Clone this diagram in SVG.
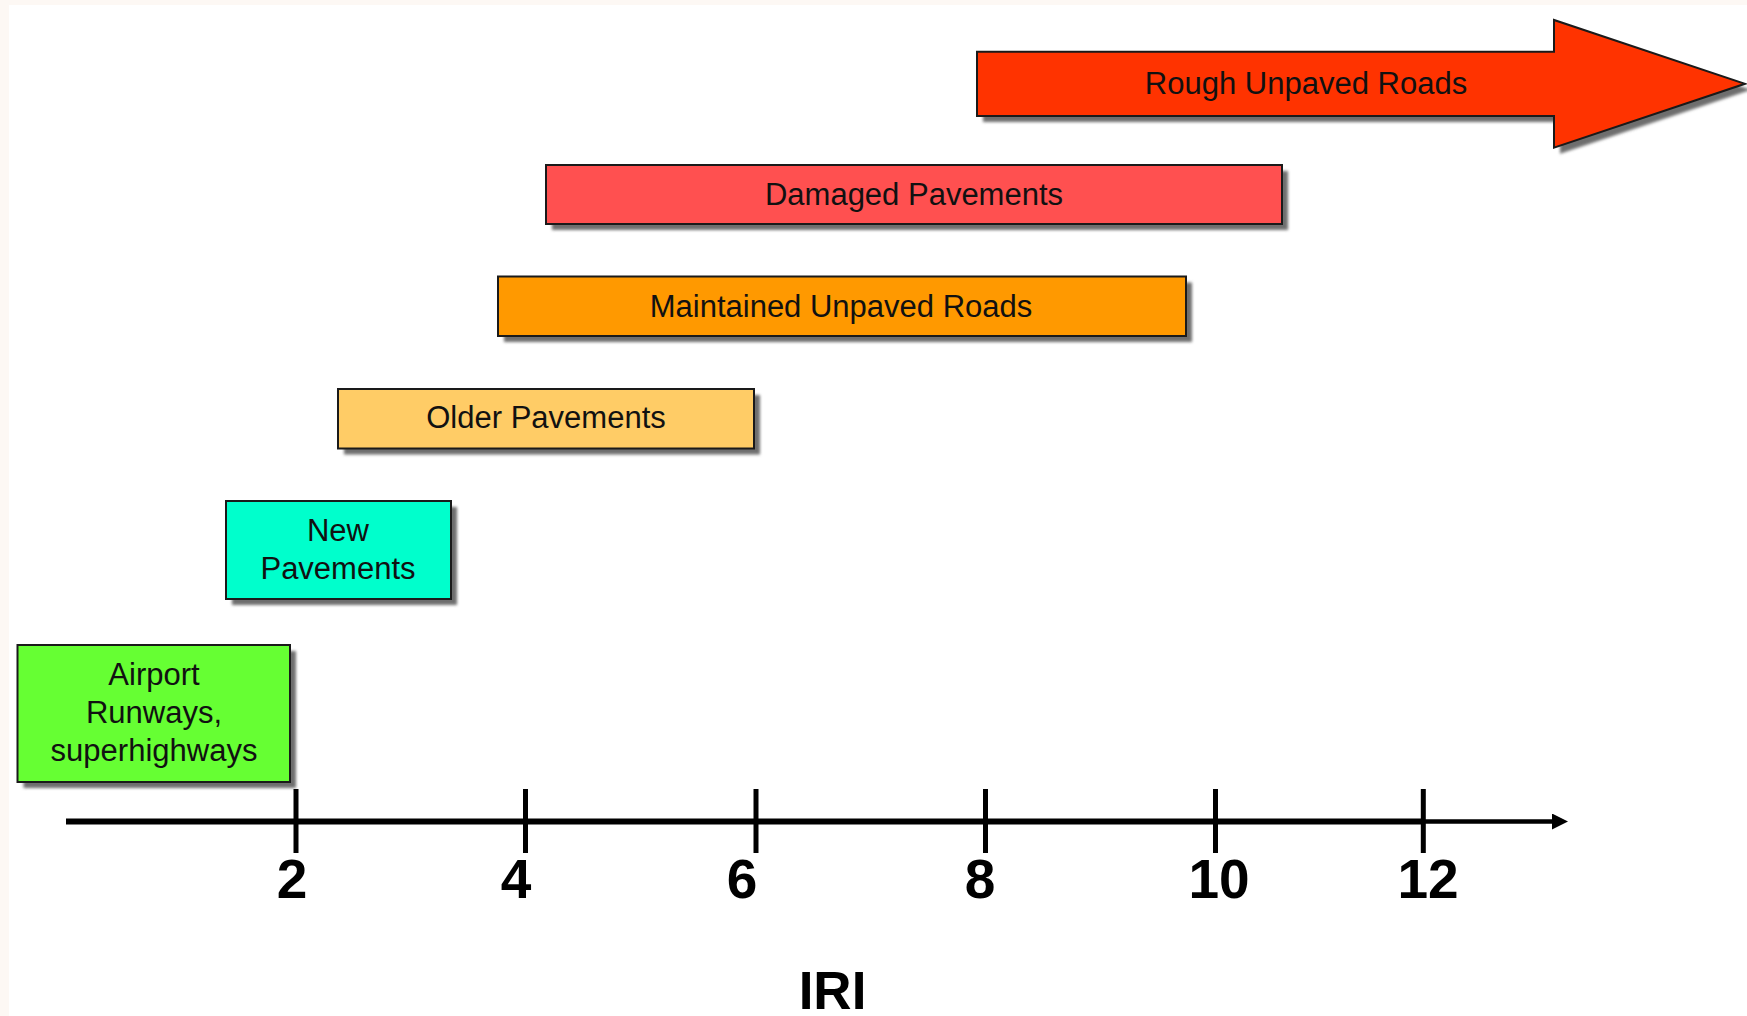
<svg xmlns="http://www.w3.org/2000/svg" width="1747" height="1016" viewBox="0 0 1747 1016">
<defs>
<filter id="blur" x="-5%" y="-20%" width="110%" height="140%">
<feGaussianBlur stdDeviation="1.6"/>
</filter>
<marker id="axisHead" viewBox="0 0 16 16" refX="2" refY="8" markerWidth="16" markerHeight="16" markerUnits="userSpaceOnUse" orient="auto">
<path d="M0,0 L16,8 L0,16 Z" fill="#000"/>
</marker>
</defs>
<style>
.shadow { fill: #6e6e6e; filter: url(#blur); }
.box { stroke: #1a1a1a; stroke-width: 2; }
.lbl { font-family: "Liberation Sans", Arial, sans-serif; font-size: 31px; fill: #111; text-anchor: middle; }
.num { font-family: "Liberation Sans", Arial, sans-serif; font-size: 55px; font-weight: bold; fill: #000; text-anchor: middle; }
.axis { stroke: #000; fill: none; }
</style>
<rect x="0" y="0" width="1747" height="1016" fill="#fdf8f4"/>
<rect x="9" y="5" width="1738" height="1011" fill="#ffffff"/>

<g id="rough-unpaved-roads">
<polygon class="shadow" points="983,57.7 1560,57.7 1560,26 1751,89.8 1560,153.7 1560,122 983,122"/>
<polygon class="box" fill="#ff3300" points="977,51.7 1554,51.7 1554,20 1745,83.8 1554,147.7 1554,116 977,116"/>
<text class="lbl" x="1306" y="94">Rough Unpaved Roads</text>
</g>

<g id="damaged-pavements">
<rect class="shadow" x="552" y="171" width="736" height="59"/>
<rect class="box" fill="#ff5050" x="546" y="165" width="736" height="59"/>
<text class="lbl" x="914" y="205">Damaged Pavements</text>
</g>

<g id="maintained-unpaved-roads">
<rect class="shadow" x="504" y="282.5" width="688" height="59.5"/>
<rect class="box" fill="#ff9900" x="498" y="276.5" width="688" height="59.5"/>
<text class="lbl" x="841" y="317">Maintained Unpaved Roads</text>
</g>

<g id="older-pavements">
<rect class="shadow" x="344" y="395" width="416" height="59.5"/>
<rect class="box" fill="#ffcc66" x="338" y="389" width="416" height="59.5"/>
<text class="lbl" x="546" y="428">Older Pavements</text>
</g>

<g id="new-pavements">
<rect class="shadow" x="232" y="507" width="225" height="98"/>
<rect class="box" fill="#00ffcc" x="226" y="501" width="225" height="98"/>
<text class="lbl" x="338" y="541">New</text>
<text class="lbl" x="338" y="579">Pavements</text>
</g>

<g id="airport-runways">
<rect class="shadow" x="23.5" y="651" width="272.5" height="137"/>
<rect class="box" fill="#66ff33" x="17.5" y="645" width="272.5" height="137"/>
<text class="lbl" x="154" y="685">Airport</text>
<text class="lbl" x="154" y="723">Runways,</text>
<text class="lbl" x="154" y="761">superhighways</text>
</g>

<g id="connectors">
<line class="axis" x1="66" y1="821.5" x2="1424" y2="821.5" stroke-width="6"/>
<line class="axis" x1="1420" y1="821.5" x2="1554" y2="821.5" stroke-width="4.5" marker-end="url(#axisHead)"/>
<g stroke="#000" stroke-width="5">
<line x1="296" y1="789" x2="296" y2="853"/>
<line x1="525.5" y1="789" x2="525.5" y2="853"/>
<line x1="756" y1="789" x2="756" y2="853"/>
<line x1="985.5" y1="789" x2="985.5" y2="853"/>
<line x1="1215.5" y1="789" x2="1215.5" y2="853"/>
<line x1="1423.3" y1="789" x2="1423.3" y2="853"/>
</g>
</g>

<g id="axis-labels">
<text class="num" x="292" y="898">2</text>
<text class="num" x="516" y="898">4</text>
<text class="num" x="742" y="898">6</text>
<text class="num" x="980" y="898">8</text>
<text class="num" x="1219" y="898">10</text>
<text class="num" x="1428" y="898">12</text>
<text class="num" x="832.5" y="1009" style="font-size:53px">IRI</text>
</g>
</svg>
